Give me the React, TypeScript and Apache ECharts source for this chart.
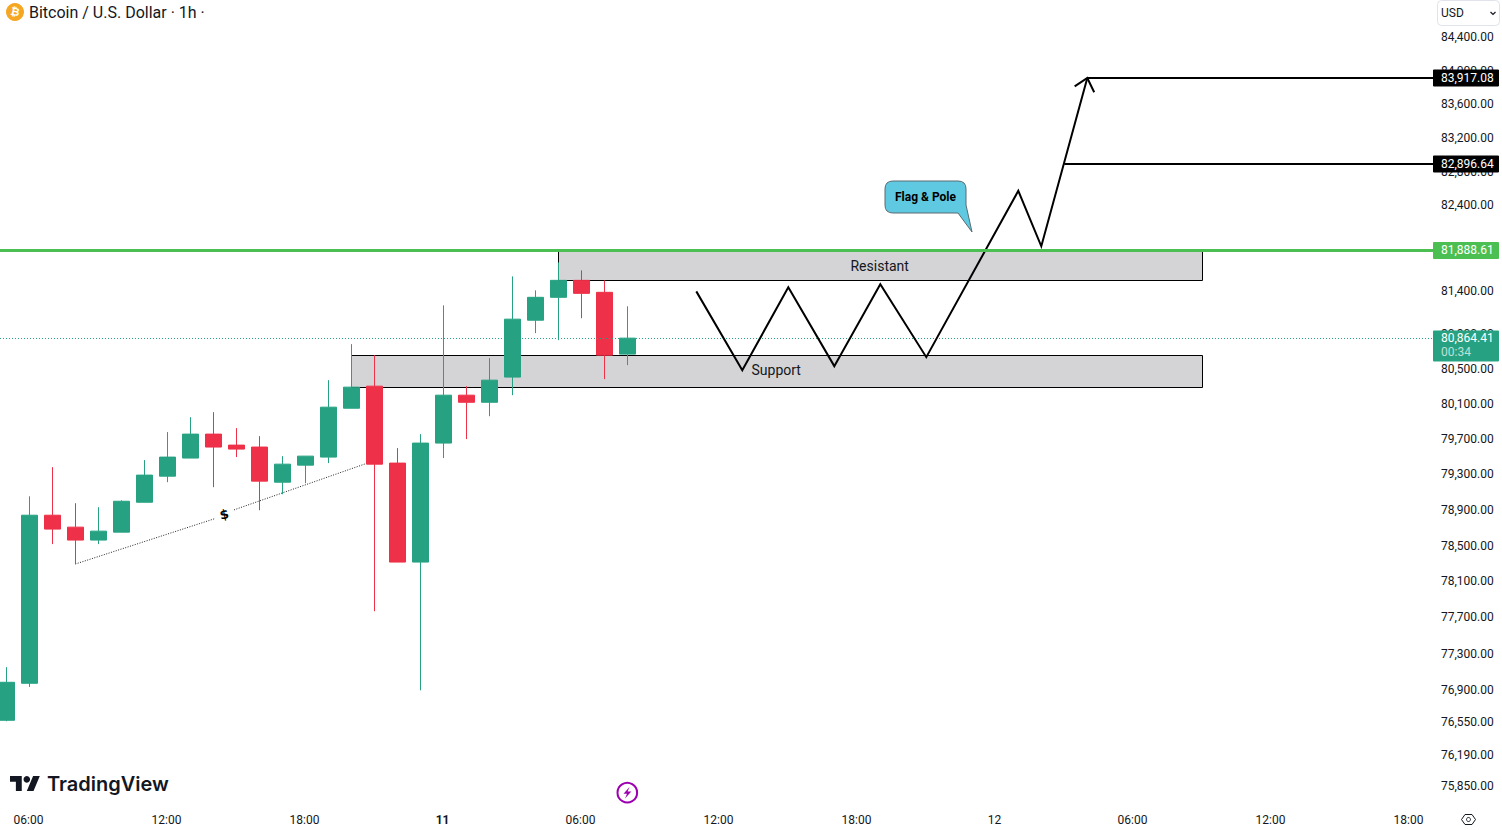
import React, { useEffect, useRef } from "react";
import * as echarts from "echarts";

const W = 1502, H = 830;
const FONT = "Roboto, sans-serif";
const INK = "#131722";
const UP = "#26A282", DOWN = "#EE3048", GREEN_LEVEL = "#4CBF53";

const hours = [0,1,2,3,4,5,6,7,8,9,10,11,12,13,14,15,16,17,18,19,20,21,22,23,24,25,26,27];
const opens = [76568,76973,78840,78706,78561,78650,78986,79280,79485,79757,79632,79610,79212,79405,79496,80052,80304,79428,78315,79655,80201,80120,80408,81063,81328,81525,81386,80672];
const closes = [76984,78840,78684,78561,78661,78997,79292,79496,79757,79610,79587,79224,79416,79507,80064,80293,79416,78315,79655,80201,80120,80373,81075,81328,81525,81374,80660,80856];
const lows = [76557,76933,78516,78293,78516,78650,78986,79212,79485,79156,79496,78896,79076,79201,79428,80052,77768,78315,76896,79485,79700,79961,80201,80914,80833,81086,80385,80545];
const highs = [77150,79053,79382,78975,78930,79008,79462,79780,79950,80007,79825,79734,79507,79507,80373,80787,80660,79598,79757,81235,80304,80626,81571,81409,81734,81641,81525,81224];

const priceTicks = [84400,84000,83600,83200,82800,82400,81400,80900,80500,80100,79700,79300,78900,78500,78100,77700,77300,76900,76550,76190,75850];
const timeTickIndex = [1,7,13,19,25,31,37,43,49,55,61];
const timeTickLabels = ["06:00","12:00","18:00","11","06:00","12:00","18:00","12","06:00","12:00","18:00"];

const patternX = [30,32,34,36,38,40,44,45,47];
const patternP = [81397,80488,81444,80534,81479,80637,82573,81922,83912];
const arrowX = [46.45,47,47.3];
const arrowP = [83812,83912,83741];
const trendX = [3,9.05,null,9.9,15.7];
const trendP = [78293,78800,null,78900,79428];
const lastPrice = 80852, targetHigh = 83912, targetLow = 82888, level = 81873;
const lastLabel = "80,864.41", highLabel = "83,917.08", lowLabel = "82,896.64", levelLabel = "81,888.61";
const zoneNames = ["Resistant","Support"];
const zoneX0 = [24,15], zoneX1 = [52,52];
const zoneTop = [81873,80660], zoneBottom = [81525,80293];

const SCALE = 7013, REF_P = 84400, REF_Y = 37.3, PLOT_BOTTOM = 806, PLOT_RIGHT = 1433;
const ln = (p: number) => Math.log(p);
const axisMax = ln(REF_P) + REF_Y / SCALE;
const axisMin = ln(REF_P) - (PLOT_BOTTOM - REF_Y) / SCALE;
const BAR = 23, X0 = 6.3;
const xMin = -X0 / BAR, xMax = (PLOT_RIGHT - X0) / BAR;
const fmt = (p: number) => p.toLocaleString("en-US", { minimumFractionDigits: 2, maximumFractionDigits: 2 });

echarts.graphic.registerShape("tvLogo", echarts.graphic.extendPath("M14 22H7V11H0V4h14v18zM28 22h-8l7.5-18h8L28 22z", {}) as any);
echarts.graphic.registerShape("callout", echarts.graphic.extendPath("M893 181H958Q966 181 966 189V205L972 232L958 213H893Q885 213 885 205V189Q885 181 893 181Z", {}) as any);
echarts.graphic.registerShape("bolt", echarts.graphic.extendPath("M629.5 787L623.5 793.8H627L625 798.5L631.3 791.5H627.6Z", {}) as any);

const tag = (price: number, text: string, bg: string) => ({
  type: "scatter", symbolSize: 0, z: 20, silent: true, clip: false,
  itemStyle: { opacity: 1 },
  data: [[xMax, ln(price)]],
  label: {
    show: true, opacity: 1, position: "right", distance: 0, formatter: text, backgroundColor: bg, color: "#fff",
    fontFamily: FONT, fontSize: 12, lineHeight: 14, padding: [2, 5, 1, 8], width: 53, borderRadius: 1,
  },
});
const hline = (price: number, from: number, color: string, width: number, z: number, type: any = "solid") => ({
  type: "line", symbol: "none", z, silent: true,
  data: [[from, ln(price)], [xMax, ln(price)]],
  lineStyle: { color, width, type },
});
const poly = (xs: (number | null)[], ps: (number | null)[], color: string, width: number, z: number, type: any = "solid") => ({
  type: "line", symbol: "none", z, silent: true, connectNulls: false,
  data: xs.map((x, i) => (x === null ? [null, null] : [x, ln(ps[i] as number)])),
  lineStyle: { color, width, type, join: "miter", cap: "butt" },
});

export default function App() {
  const ref = useRef<HTMLDivElement>(null);
  useEffect(() => {
    document.body.style.margin = "0";
    const chart = echarts.init(ref.current!, undefined, { renderer: "svg" });
    chart.setOption({
      animation: false,
      backgroundColor: "#fff",
      grid: { left: 0, right: W - PLOT_RIGHT, top: 0, bottom: H - PLOT_BOTTOM, containLabel: false },
      xAxis: {
        type: "value", min: xMin, max: xMax, scale: true,
        axisLine: { show: false }, axisTick: { show: false }, splitLine: { show: false },
        axisLabel: {
          customValues: timeTickIndex, margin: 8, padding: [0, 1.5, 0, 0],
          color: INK, fontFamily: FONT, fontSize: 12,
          showMinLabel: true, showMaxLabel: true,
          formatter: (v: number) => {
            const s = timeTickLabels[timeTickIndex.indexOf(Math.round(v))];
            return s === "11" ? `{b|${s}}` : s;
          },
          rich: { b: { fontWeight: "bold", fontFamily: FONT, fontSize: 12, color: INK } },
        },
      },
      yAxis: {
        type: "value", position: "right", min: axisMin, max: axisMax, scale: true,
        axisLine: { show: false }, axisTick: { show: false }, splitLine: { show: false },
        axisLabel: {
          customValues: priceTicks.map(ln), margin: 8, color: INK, fontFamily: FONT, fontSize: 12,
          formatter: (v: number) => fmt(Math.round(Math.exp(v))),
        },
      },
      series: [
        {
          type: "custom", z: 1, silent: true, clip: true,
          encode: { x: [0, 1], y: [2, 3] },
          data: zoneNames.map((_, i) => [zoneX0[i], zoneX1[i], ln(zoneTop[i]), ln(zoneBottom[i])]),
          renderItem: (params: any, api: any) => {
            const a = api.coord([api.value(0), api.value(2)]);
            const b = api.coord([api.value(1), api.value(3)]);
            const x = Math.round(a[0]) + 0.5, y = Math.round(a[1]) + 0.5;
            const w = Math.round(b[0] - a[0]), h = Math.round(b[1] - a[1]);
            return {
              type: "group",
              children: [
                { type: "rect", shape: { x, y, width: w, height: h }, style: { fill: "#D4D4D6", stroke: "#000", lineWidth: 1 } },
                { type: "text", style: { text: zoneNames[params.dataIndex], x: x + w / 2 - 0.8, y: y + h / 2 - (params.dataIndex ? 1.5 : 0), align: "center", verticalAlign: "middle", fill: INK, fontFamily: FONT, fontSize: 14 } },
              ],
            };
          },
        },
        poly(trendX, trendP, "#222", 1, 1.5, [1, 1.5]),
        {
          type: "candlestick", z: 2, barWidth: 16, silent: true,
          data: hours.map((h, i) => [h, opens[i], closes[i], lows[i], highs[i]].map((v, k) => (k === 0 ? v : ln(v)))),
          itemStyle: { color: UP, color0: DOWN, borderColor: UP, borderColor0: DOWN, borderWidth: 1 },
        },
        hline(lastPrice, xMin, UP, 1, 4, [1, 2]),
        hline(level, xMin, GREEN_LEVEL, 3, 6),
        poly(patternX, patternP, "#000", 2, 5),
        poly(arrowX, arrowP, "#000", 2, 5),
        hline(targetHigh, 47, "#000", 2, 5),
        hline(targetLow, 46, "#000", 2, 5),
        {
          type: "scatter", symbolSize: 0, z: 6, silent: true,
          itemStyle: { opacity: 1 },
          data: [[9.47, ln(78850)]],
          label: { show: true, opacity: 1, position: "inside", formatter: "$", rotate: 12, color: "#000", fontFamily: "DejaVu Sans, sans-serif", fontWeight: "bold", fontSize: 13 },
        },
        tag(targetHigh, highLabel, "#000"),
        tag(targetLow, lowLabel, "#000"),
        tag(level, levelLabel, GREEN_LEVEL),
        {
          type: "scatter", symbolSize: 0, z: 20, silent: true, clip: false,
          itemStyle: { opacity: 1 },
          data: [[xMax, ln(lastPrice)]],
          label: {
            show: true, opacity: 1, position: "right", distance: 0, offset: [0, 7.5],
            formatter: `{a|${lastLabel}}\n{b|00:34}`, backgroundColor: UP, padding: [1, 5, 2, 8], width: 53, borderRadius: 1,
            rich: {
              a: { color: "#fff", fontFamily: FONT, fontSize: 12, lineHeight: 14 },
              b: { color: "rgba(255,255,255,0.7)", fontFamily: FONT, fontSize: 12, lineHeight: 14 },
            },
          },
        },
      ],
      graphic: [
        { type: "circle", shape: { cx: 15, cy: 12, r: 9 }, style: { fill: "#F5A623" }, z: 30 },
        { type: "text", x: 15, y: 12, rotation: -0.2, originX: 0, originY: 0, style: { text: "₿", x: 0, y: 0, align: "center", verticalAlign: "middle", fill: "#fff", fontFamily: "DejaVu Sans, sans-serif", fontWeight: "bold", fontSize: 11 }, z: 31 },
        { type: "text", x: 29, y: 12, style: { text: "Bitcoin / U.S. Dollar · 1h ·", align: "left", verticalAlign: "middle", fill: INK, fontFamily: FONT, fontSize: 16 }, z: 30 },
        { type: "rect", shape: { x: 1437.5, y: 0.5, width: 62, height: 25, r: 4 }, style: { fill: "#fff", stroke: "#E0E3EB", lineWidth: 1 }, z: 30 },
        { type: "text", x: 1441, y: 13, style: { text: "USD", align: "left", verticalAlign: "middle", fill: INK, fontFamily: FONT, fontSize: 12 }, z: 31 },
        { type: "polyline", shape: { points: [[1490.5, 12], [1493, 14.5], [1495.5, 12]] }, style: { fill: "none", stroke: INK, lineWidth: 1.2 }, z: 31 },
        { type: "callout", x: 0, y: 0, style: { fill: "#5FC9E2", stroke: "#5A6B70", lineWidth: 1 }, z: 30 },
        { type: "text", x: 925.5, y: 197, style: { text: "Flag & Pole", align: "center", verticalAlign: "middle", fill: "#000", fontFamily: FONT, fontWeight: "bold", fontSize: 12 }, z: 31 },
        { type: "tvLogo", x: 10, y: 772.6, scaleX: 0.84, scaleY: 0.84, style: { fill: INK }, z: 30 },
        { type: "circle", shape: { cx: 26.8, cy: 779.3, r: 3.3 }, style: { fill: INK }, z: 30 },
        { type: "text", x: 47, y: 784, style: { text: "TradingView", align: "left", verticalAlign: "middle", fill: INK, fontFamily: "Inter, sans-serif", fontWeight: 600, fontSize: 20 }, z: 30 },
        { type: "circle", shape: { cx: 627.3, cy: 792.7, r: 9.8 }, style: { fill: "#fff", stroke: "#9C00B0", lineWidth: 2 }, z: 30 },
        { type: "bolt", x: 0, y: 0, style: { fill: "#9C00B0" }, z: 31 },
        { type: "polygon", shape: { points: [[1461.5, 819.5], [1465, 814.5], [1472, 814.5], [1475.5, 819.5], [1472, 824.5], [1465, 824.5]] }, style: { fill: "none", stroke: INK, lineWidth: 1 }, z: 30 },
        { type: "circle", shape: { cx: 1468.5, cy: 819.5, r: 2 }, style: { fill: "none", stroke: INK, lineWidth: 1 }, z: 30 },
      ],
    });
    return () => chart.dispose();
  }, []);
  return <div ref={ref} style={{ position: "fixed", left: 0, top: 0, width: W, height: H, background: "#fff" }} />;
}
